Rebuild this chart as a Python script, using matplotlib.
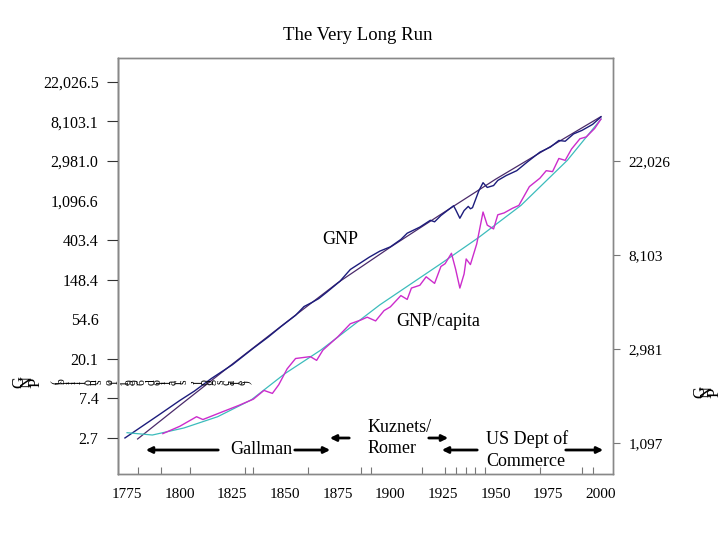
import numpy as np
import matplotlib
matplotlib.use("Agg")
import matplotlib.pyplot as plt
from matplotlib.patches import FancyArrowPatch
from matplotlib.ticker import FixedLocator, NullLocator, FuncFormatter

# GNP, billions of 1996 dollars (left axis)
gnp_years = [1774, 1790, 1800, 1807, 1815, 1825, 1835, 1842, 1848, 1855, 1859, 1863,
             1866, 1870, 1876, 1881, 1886, 1890, 1895, 1900, 1905, 1908, 1914, 1919,
             1921, 1924, 1930, 1931, 1933, 1935, 1937, 1938, 1939, 1942, 1944, 1946,
             1949, 1951, 1955, 1960, 1965, 1971, 1976, 1980, 1983, 1987, 1991, 1996,
             2000]
gnp = [2.72, 4.85, 7.0, 8.9, 12.2, 17.3, 26.3, 34.8, 45.2, 60.3, 75.2, 84.0,
       92.0, 109, 142, 192, 228, 262, 305, 340, 410, 480, 560, 665,
       640, 750, 960, 870, 700, 850, 945, 890, 915, 1400, 1720, 1525,
       1600, 1820, 2060, 2330, 2900, 3720, 4230, 5000, 4900, 5900, 6450, 7500,
       9060]

gnp_trend_years = [1780, 1800, 1825, 1850, 1875, 1900, 1925, 1950, 1975, 2000]
gnp_trend = [2.65, 6.17, 17.6, 49.4, 137, 337, 800, 1880, 4150, 9140]

# GNP per capita, 1996 dollars (right axis)
pc_years = [1792, 1800, 1808, 1811, 1820, 1828, 1835, 1840, 1844, 1847, 1851, 1855,
            1862, 1865, 1868, 1875, 1881, 1886, 1889, 1893, 1897, 1900, 1905, 1908,
            1910, 1914, 1917, 1921, 1924, 1926, 1929, 1931, 1933, 1935, 1936, 1938,
            1941, 1944, 1946, 1949, 1951, 1954, 1958, 1961, 1966, 1971, 1974, 1977,
            1980, 1983, 1986, 1990, 1993, 1997, 2000]
pc = [1212, 1310, 1451, 1408, 1525, 1636, 1750, 1920, 1860, 2039, 2416, 2697,
      2752, 2644, 2951, 3394, 3905, 4064, 4188, 4024, 4491, 4675, 5271, 5060,
      5710, 5884, 6440, 6003, 7185, 7404, 8270, 6974, 5710, 6634, 7785, 7332,
      9136, 12836, 11160, 10720, 12460, 12710, 13360, 13770, 16820, 18400, 19930, 19730,
      22700, 22250, 25090, 28000, 28560, 31250, 34540]

pc_trend_years = [1775, 1787, 1802, 1818, 1834, 1850, 1867, 1895, 1924, 1942, 1962, 1984, 2000]
pc_trend = [1224, 1194, 1287, 1451, 1737, 2298, 2951, 4775, 7405, 9798, 13770, 22250, 34540]

left_ticks = np.exp(np.arange(1, 11))
right_ticks = np.exp(np.arange(7, 11))
x_labels = [1775, 1800, 1825, 1850, 1875, 1900, 1925, 1950, 1975, 2000]
x_marks = [1775, 1780, 1791, 1805, 1825, 1831, 1835, 1850, 1861, 1886, 1891, 1915,
           1926, 1931, 1936, 1940, 1945, 1971, 1991, 1996, 2000]

serif = "Liberation Serif"
W, H = 720, 540

def fp(x, y):
    # pixel position from the top-left corner -> figure fraction
    return (x / W, 1 - y / H)

fig = plt.figure(figsize=(7.2, 5.4), dpi=100)
ax = fig.add_axes([118 / W, 1 - 474 / H, (613 - 118) / W, (474 - 58) / H])
ax2 = ax.twinx()

ax.plot(gnp_trend_years, gnp_trend, color="#4a2a6a", lw=0.9)
ax.plot(gnp_years, gnp, color="#1c1c7c", lw=1.0)
ax2.plot(pc_trend_years, pc_trend, color="#3cbcbc", lw=0.9)
ax2.plot(pc_years, pc, color="#cc2ccc", lw=1.0)

ax.set_yscale("log")
ax2.set_yscale("log")
ax.set_ylim(np.exp(0.09), np.exp(10.60))
ax2.set_ylim(np.exp(6.67), np.exp(11.10))
ax.set_xlim(1770.7, 2005.7)

ax.yaxis.set_major_locator(FixedLocator(left_ticks))
ax.yaxis.set_minor_locator(NullLocator())
ax.yaxis.set_major_formatter(FuncFormatter(lambda v, p: f"{v:,.1f}"))
ax2.yaxis.set_major_locator(FixedLocator(right_ticks))
ax2.yaxis.set_minor_locator(NullLocator())
ax2.yaxis.set_major_formatter(FuncFormatter(lambda v, p: f"{v:,.0f}"))

ax.xaxis.set_major_locator(FixedLocator(x_labels))
ax.xaxis.set_minor_locator(FixedLocator(x_marks))

ax.tick_params(axis="y", direction="out", length=8, width=0.8, color="#333333",
               labelsize=11.5, pad=6)
ax2.tick_params(axis="y", direction="out", length=5, width=0.8, color="#777777",
                labelsize=11, pad=6)
ax.tick_params(axis="x", which="major", length=0, labelsize=11, pad=10)
ax.tick_params(axis="x", which="minor", direction="in", length=5, width=0.8,
               color="#777777")

for t in ax.get_xticklabels() + ax.get_yticklabels() + ax2.get_yticklabels():
    t.set_fontfamily(serif)

# no tick marks next to 54.6 and 1,096.6
ticks = ax.yaxis.get_major_ticks()
ticks[3].tick1line.set_visible(False)
ticks[6].tick1line.set_visible(False)

for a in (ax, ax2):
    for s in a.spines.values():
        s.set_color("#888888")
        s.set_linewidth(1.0)
ax.spines["left"].set_color("#111111")

fig.text(*fp(358, 35), "The Very Long Run", ha="center", va="center",
         family=serif, fontsize=13.5)

fig.text(*fp(340, 240), "GNP", ha="center", va="center", family=serif, fontsize=13)
fig.text(*fp(438, 322), "GNP/capita", ha="center", va="center", family=serif, fontsize=13)
fig.text(*fp(261, 449), "Gallman", ha="center", va="center", family=serif, fontsize=13)
fig.text(*fp(368, 438), "Kuznets/\nRomer", ha="left", va="center", family=serif,
         fontsize=13, linespacing=1.3)
fig.text(*fp(486, 450), "US Dept of\nCommerce", ha="left", va="center", family=serif,
         fontsize=13, linespacing=1.35)

arrows = [((221, 450), (143, 450)), ((292, 450), (333, 450)),
          ((352, 438), (327, 438)), ((426, 438), (451, 438)),
          ((480, 450), (439, 450)), ((563, 450), (606, 450))]
for start, end in arrows:
    fig.add_artist(FancyArrowPatch(
        fp(*start), fp(*end), transform=fig.transFigure, arrowstyle="-|>",
        mutation_scale=9, lw=2.0, color="black"))

# axis titles drawn one rotated glyph at a time, as in the original
x = 19
for ch in "GNP":
    fig.text(*fp(x, 382), ch, rotation=90, ha="center", va="center",
             family=serif, fontsize=12, zorder=10)
    x += 8.5
x += 12
for ch in "(billions of 1996 dollars, log scale)":
    fig.text(*fp(x, 382), ch, rotation=90, ha="center", va="center",
             family=serif, fontsize=8.5, zorder=10)
    x += 5.3

x = 700
for ch in "GNP":
    fig.text(*fp(x, 392), ch, rotation=90, ha="center", va="center",
             family=serif, fontsize=12)
    x += 7.5

fig.savefig("out.png", dpi=100)
